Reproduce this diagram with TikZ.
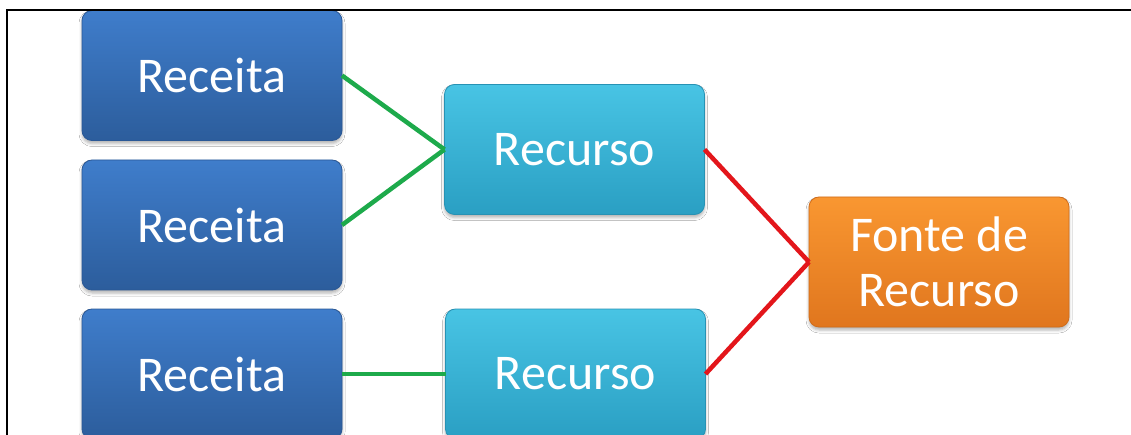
\documentclass[tikz,border=0pt]{standalone}
\usepackage{fontspec}
\setmainfont{Carlito}
\usetikzlibrary{shadows.blur}
\definecolor{rcT}{HTML}{3F7DCB}
\definecolor{rcB}{HTML}{2C5D9C}
\definecolor{rcD}{HTML}{2A5896}
\definecolor{ruT}{HTML}{48C4E4}
\definecolor{ruB}{HTML}{2A9FC3}
\definecolor{ruD}{HTML}{2792B4}
\definecolor{foT}{HTML}{F99731}
\definecolor{foB}{HTML}{E0761E}
\definecolor{foD}{HTML}{D06C1A}
\definecolor{lnG}{HTML}{1DAA4B}
\definecolor{lnR}{HTML}{E3161B}
\tikzset{
  box/.style={rounded corners=10pt, minimum width=260pt, minimum height=130pt,
    inner sep=0pt, outer sep=0pt, text=white, align=center,
    font=\fontsize{50}{55}\selectfont, line width=0.8pt,
    blur shadow={shadow xshift=0pt, shadow yshift=-3pt, shadow blur radius=3pt, shadow opacity=30}},
  receita/.style={box, top color=rcT, bottom color=rcB, draw=rcD},
  recurso/.style={box, top color=ruT, bottom color=ruB, draw=ruD},
  fonte/.style={box, top color=foT, bottom color=foB, draw=foD},
  glink/.style={draw=lnG, line width=4.5pt},
  rlink/.style={draw=lnR, line width=4.5pt},
  frameline/.style={draw=black, line width=2.2pt}
}
\begin{document}
\begin{tikzpicture}[x=1pt,y=-1pt]
\useasboundingbox (0,0) rectangle (1131,435);
\clip (0,0) rectangle (1131,435);
\fill[white] (0,0) rectangle (1131,435);
\node[receita] (r1) at (212,75.5) {Receita};
\node[receita] (r2) at (212,225) {Receita};
\node[receita] (r3) at (212,374) {Receita};
\node[recurso] (c1) at (574.5,149.5) {Recurso};
\node[recurso] (c2) at (575.5,374) {Recurso};
\node[fonte] (f) at (939,262) {Fonte de\\Recurso};
\draw[glink] (r1.east) -- (c1.west);
\draw[glink] (r2.east) -- (c1.west);
\draw[glink] (r3.east) -- (c2.west);
\draw[rlink] (c1.east) -- (f.west);
\draw[rlink] (c2.east) -- (f.west);
\coordinate (fl) at (7,435);
\coordinate (fc) at (7,10);
\coordinate (fr) at (1131,10);
\draw[frameline] (fl) -- (fc) -- (fr);
\end{tikzpicture}
\end{document}
